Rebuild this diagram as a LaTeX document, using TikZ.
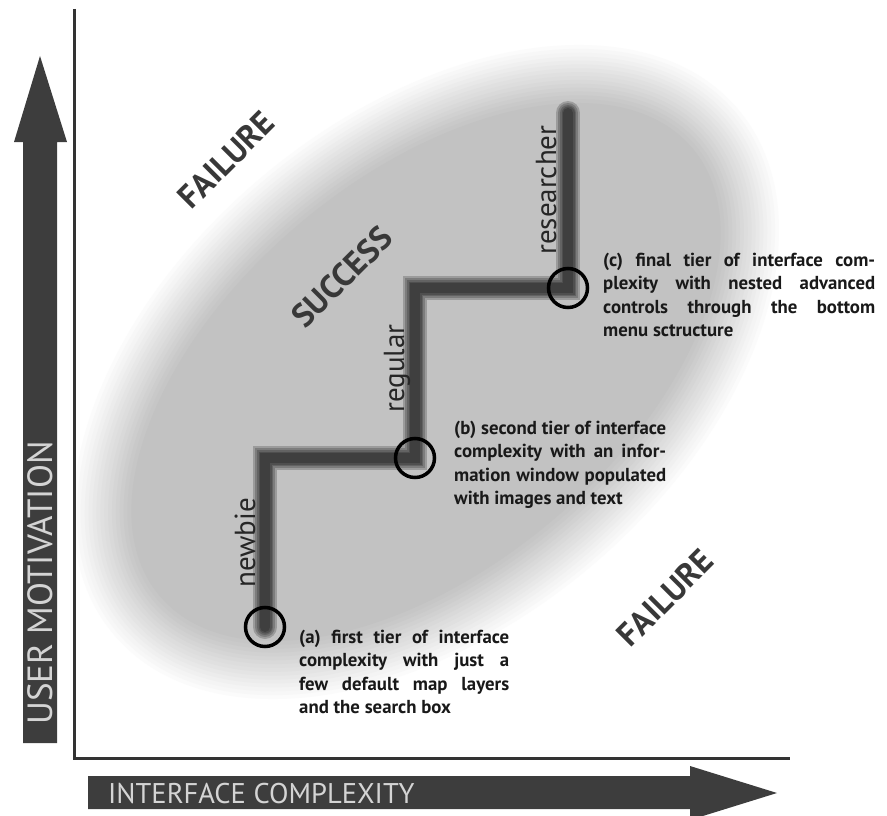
\documentclass[tikz,border=0pt]{standalone}
\usepackage{fontspec}
\setmainfont{PT Sans}
\newfontfamily\axisfont{PT Sans}
\tikzset{
  axisarrow/.style={fill=black!76},
  axislabel/.style={text=black!17, inner sep=0pt, anchor=base west},
  tierlabel/.style={font=\fontsize{29}{29}\selectfont, text=black!85, rotate=90, anchor=base west, inner sep=0pt},
  zonelabel/.style={font=\bfseries\fontsize{33}{33}\selectfont, text=black!78, rotate=45, inner sep=0pt},
  note/.style={font=\bfseries\fontsize{18.8}{23.3}\selectfont, text=black!90, align=left, anchor=north west, inner sep=0pt},
  tier/.style={circle, draw=black, line width=3.5pt, minimum size=39pt, inner sep=0pt},
}
\newcommand{\jrow}[2]{\makebox[#1][s]{#2}}
\begin{document}
\begin{tikzpicture}[x=1pt, y=-1pt]
   \useasboundingbox (0,0) rectangle (887,816);

   % soft grey zone of success
   \coordinate (blob) at (426,372);
   \foreach \k [evaluate=\k as \tone using 1.5*\k, evaluate=\k as \grow using 32-4*\k] in {0,...,16}
   \fill[black!\tone, rotate around={40:(blob)}] (blob) ellipse [x radius=380pt+\grow pt, y radius=227pt+\grow pt];

   % axes
   \draw[line width=3pt, black!80] (74,9) -- (74,758) -- (790,758);
   \fill[axisarrow] (23,743) -- (23,142) -- (14,142) -- (40,56) -- (67,142) -- (57,142) -- (57,743) -- cycle;
   \fill[axisarrow] (88,776) -- (690,776) -- (690,766) -- (777,793) -- (690,820) -- (690,809) -- (88,809) -- cycle;
   \node[axislabel, font=\axisfont\fontsize{35}{35}\selectfont, rotate=90] (ylab) at (52,725) {USER MOTIVATION};
   \node[axislabel, font=\axisfont\fontsize{28.5}{28.5}\selectfont] (xlab) at (108,803) {INTERFACE COMPLEXITY};

   \node[zonelabel] (fail1) at (226,160) {FAILURE};
   \node[zonelabel] (win) at (342,277) {SUCCESS};
   \node[zonelabel] (fail2) at (665,598) {FAILURE};

   % the stair of tiers
   \coordinate (pa) at (265,627);
   \coordinate (pb) at (415,458);
   \coordinate (pc) at (568,288);
   \coordinate (top) at (568,113);
   \foreach \w in {24,20,16,13,10}
   \draw[line width=\w pt, black, opacity=.2, line cap=round] (pa) |- (pb) |- (pc) -- (top);

   \node[tier] (ta) at (pa) {};
   \node[tier] (tb) at (pb) {};
   \node[tier] (tc) at (pc) {};

   \node[tierlabel] (newbie) at (255,588) {newbie};
   \node[tierlabel] (regular) at (404,413) {regular};
   \node[tierlabel] (researcher) at (556,255) {researcher};

   \node[note] (notea) at (299,630) {\jrow{210pt}{(a) first tier of interface}\\
      \jrow{210pt}{complexity with just a}\\
      \jrow{210pt}{few default map layers}\\
      and the search box};
   \node[note] (noteb) at (454,421) {\jrow{212pt}{(b) second tier of interface}\\
      \jrow{212pt}{complexity with an infor-}\\
      \jrow{212pt}{mation window populated}\\
      with images and text};
   \node[note] (notec) at (603,253) {\jrow{272pt}{(c) final tier of interface com-}\\
      \jrow{272pt}{plexity with nested advanced}\\
      \jrow{272pt}{controls through the bottom}\\
      menu sctructure};

\end{tikzpicture}
\end{document}
